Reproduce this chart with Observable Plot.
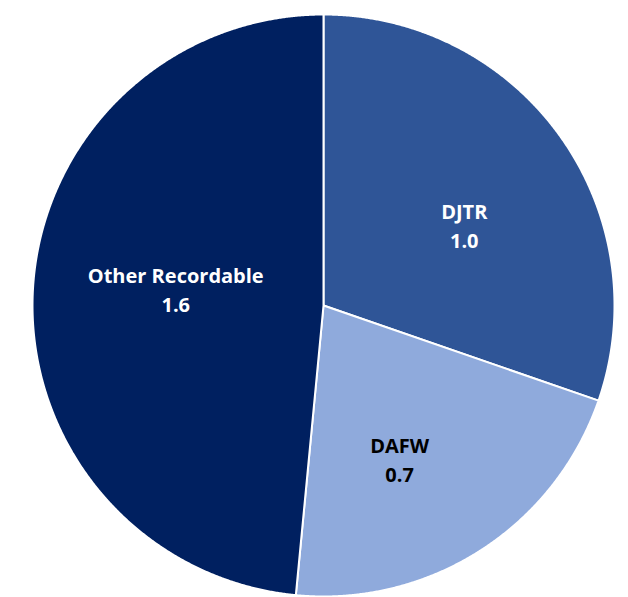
<!DOCTYPE html>
<html><head><meta charset="utf-8">
<script src="https://cdn.jsdelivr.net/npm/d3@7"></script>
<script src="https://cdn.jsdelivr.net/npm/@observablehq/plot@0.6"></script>
<style>body{margin:0;background:#fff;} svg{display:block;}</style>
</head><body><div id="chart"></div>
<script>
const categories = ["DJTR", "DAFW", "Other Recordable"];
const values = [1.0, 0.7, 1.6];
const valueLabels = ["1.0", "0.7", "1.6"];
const colors = ["#2F5597", "#8FAADC", "#002060"];
const labelColors = ["#ffffff", "#000000", "#ffffff"];
const labelOffsets = [[8, 13], [-12, 16], [15, -10]];

const rows = categories.map((c, i) => ({category: c, value: values[i], label: c + "\n" + valueLabels[i]}));
const arcs = d3.pie().sort(null).value(d => d.value)(rows);

const pts = [];
arcs.forEach(a => {
  const c = a.data.category;
  const n = Math.max(2, Math.ceil((a.endAngle - a.startAngle) / 0.004));
  pts.push({category: c, x: 0, y: 0});
  for (let k = 0; k <= n; k++) {
    const t = a.startAngle + (a.endAngle - a.startAngle) * k / n;
    pts.push({category: c, x: Math.sin(t), y: Math.cos(t)});
  }
  pts.push({category: c, x: 0, y: 0});
});

const labelR = 0.56;
const labelMarks = arcs.map((a, i) => {
  const m = (a.startAngle + a.endAngle) / 2;
  return Plot.text([{x: labelR * Math.sin(m), y: labelR * Math.cos(m), label: a.data.label}], {
    x: "x", y: "y", text: "label",
    fill: labelColors[i], fontSize: 20, fontWeight: "bold",
    lineHeight: 1.45, dx: labelOffsets[i][0], dy: labelOffsets[i][1]
  });
});

const chart = Plot.plot({
  width: 628, height: 597,
  marginLeft: 32, marginRight: 14, marginTop: 14, marginBottom: 1,
  x: {domain: [-1, 1], axis: null},
  y: {domain: [-1, 1], axis: null},
  color: {domain: categories, range: colors, type: "ordinal"},
  style: {fontFamily: "'Open Sans', Lato, sans-serif", background: "#fff"},
  marks: [
    Plot.line(pts, {x: "x", y: "y", z: "category", fill: "category", stroke: "#ffffff", strokeWidth: 2, strokeLinejoin: "round"}),
    ...labelMarks
  ]
});
document.getElementById("chart").appendChild(chart);
</script>
</body></html>
